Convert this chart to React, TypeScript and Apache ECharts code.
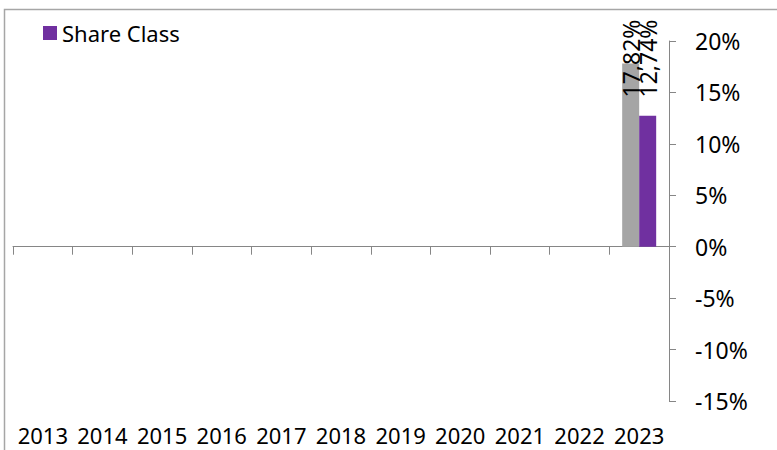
import React, { useEffect, useRef } from "react";
import * as echarts from "echarts";

const years = ["2013", "2014", "2015", "2016", "2017", "2018", "2019", "2020", "2021", "2022", "2023"];
const benchmarkValues: (number | null)[] = [null, null, null, null, null, null, null, null, null, null, 17.82];
const shareClassValues: (number | null)[] = [null, null, null, null, null, null, null, null, null, null, 12.74];
const yMin = -15;
const yMax = 20;
const yStep = 5;

const FONT = "'Noto Sans', sans-serif";
const LABEL_ANCHOR = 18.3;

const fmt = (v: number) => v.toFixed(2).replace(".", ",") + "%";

function withLabels(values: (number | null)[]) {
  return values.map((v) =>
    v == null
      ? null
      : {
          value: v,
          label: {
            show: true,
            position: ["50%", `${(-(LABEL_ANCHOR - v) / v) * 100}%`],
            rotate: 90,
            align: "center",
            verticalAlign: "middle",
            formatter: () => fmt(v),
            fontFamily: FONT,
            fontSize: 23,
            color: "#000",
          },
        }
  );
}

export default function App() {
  const ref = useRef<HTMLDivElement>(null);
  useEffect(() => {
    document.body.style.margin = "0";
    const chart = echarts.init(ref.current!, null, { renderer: "svg" });
    chart.setOption({
      animation: false,
      backgroundColor: "#fff",
      textStyle: { fontFamily: FONT },
      graphic: [
        {
          type: "rect",
          shape: { x: 4.5, y: 9.5, width: 900, height: 600 },
          style: { fill: "none", stroke: "#a6a6a6", lineWidth: 1.5 },
          silent: true,
        },
      ],
      legend: {
        data: ["Share Class"],
        left: 38,
        top: 17,
        icon: "rect",
        itemWidth: 14,
        itemHeight: 14,
        textStyle: { fontFamily: FONT, fontSize: 22, color: "#000" },
      },
      grid: { left: 13, right: 108, top: 41, bottom: 49, containLabel: false },
      xAxis: [
        {
          type: "category",
          data: years,
          position: "bottom",
          axisLine: { show: true, onZero: true, lineStyle: { color: "#868686", width: 1 } },
          axisTick: { show: true, length: 8, lineStyle: { color: "#868686" } },
          axisLabel: { show: false },
          splitLine: { show: false },
        },
        {
          type: "category",
          data: years,
          position: "bottom",
          axisLine: { show: false, onZero: false },
          axisTick: { show: false },
          axisLabel: {
            show: true,
            interval: 0,
            hideOverlap: false,
            margin: 25,
            fontFamily: FONT,
            fontSize: 22,
            lineHeight: 18,
            color: "#000",
          },
          splitLine: { show: false },
        },
      ],
      yAxis: {
        type: "value",
        position: "right",
        min: yMin,
        max: yMax,
        interval: yStep,
        axisLine: { show: true, lineStyle: { color: "#868686", width: 1 } },
        axisTick: { show: true, length: 7, lineStyle: { color: "#868686" } },
        axisLabel: {
          margin: 26,
          formatter: (v: number) => `${v}%`,
          fontFamily: FONT,
          fontSize: 23,
          color: "#000",
        },
        splitLine: { show: false },
      },
      series: [
        {
          name: "Benchmark",
          type: "bar",
          xAxisIndex: 0,
          data: withLabels(benchmarkValues),
          itemStyle: { color: "#a5a5a5" },
          barWidth: 17,
          barGap: "0%",
        },
        {
          name: "Share Class",
          type: "bar",
          xAxisIndex: 0,
          data: withLabels(shareClassValues),
          itemStyle: { color: "#7030a0" },
          barWidth: 17,
          barGap: "0%",
        },
      ],
    });
    return () => chart.dispose();
  }, []);
  return <div ref={ref} style={{ position: "fixed", left: 0, top: 0, width: 777, height: 450 }} />;
}
